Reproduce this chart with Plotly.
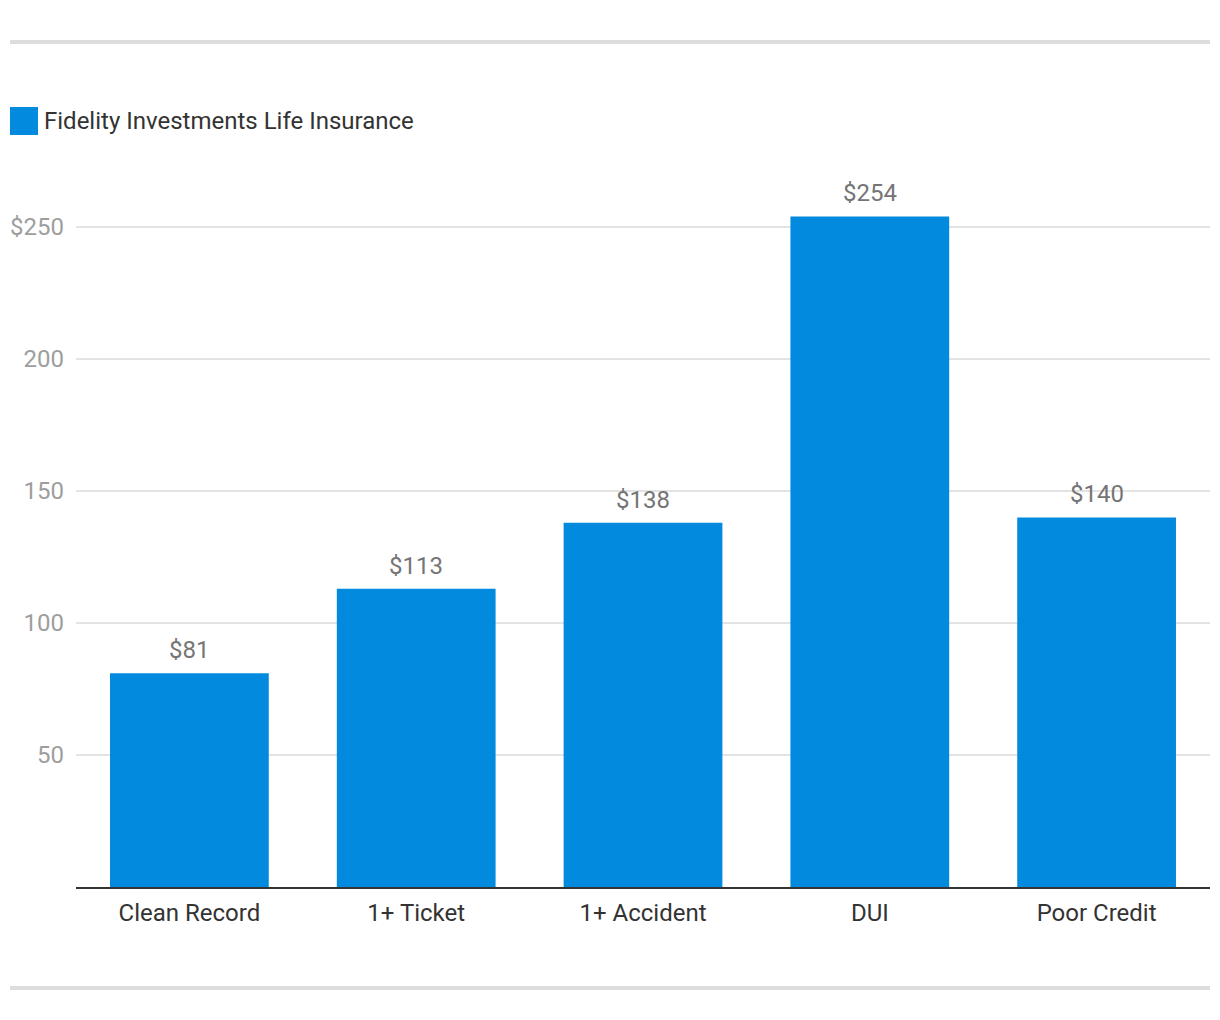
import plotly.graph_objects as go

categories = ["Clean Record", "1+ Ticket", "1+ Accident", "DUI", "Poor Credit"]
values = [81, 113, 138, 254, 140]
series_name = "Fidelity Investments Life Insurance"
y_ticks = [50, 100, 150, 200, 250]
y_tick_labels = ["50", "100", "150", "200", "$250"]

BAR = "#028ADE"
FONT = "Roboto, Arial, sans-serif"

# plot area in page pixels: x 76..1210, y 161..887 (page has 8px body offset)
PW, PH = 1134, 726

fig = go.Figure()
fig.add_trace(go.Bar(
    x=categories, y=values, name=series_name,
    marker=dict(color=BAR, line=dict(width=0)),
    width=0.7, showlegend=False, hoverinfo="x+y",
))

for c, v in zip(categories, values):
    fig.add_annotation(x=c, y=v, text=f"${v}", showarrow=False,
                       yanchor="bottom", yshift=7,
                       font=dict(family=FONT, size=24, color="#757575"))

# Legend (drawn manually to match the large square swatch)
fig.add_shape(type="rect", xref="paper", yref="paper",
              x0=-66/PW, x1=-38/PW, y0=(887-135)/PH, y1=(887-107)/PH,
              fillcolor=BAR, line=dict(width=0))
fig.add_annotation(xref="paper", yref="paper", x=-34/PW, y=(887-121)/PH,
                   xanchor="left", yanchor="middle", showarrow=False,
                   text=series_name,
                   font=dict(family=FONT, size=24, color="#333333"))

# Top and bottom separator lines
for ypx in (42, 988):
    fig.add_shape(type="line", xref="paper", yref="paper",
                  x0=-66/PW, x1=1.0, y0=(887-ypx)/PH, y1=(887-ypx)/PH,
                  line=dict(color="#DDDDDD", width=4))

fig.update_layout(
    width=1220, height=1020,
    margin=dict(l=68, r=18, t=153, b=141),
    paper_bgcolor="white", plot_bgcolor="white",
    font=dict(family=FONT, size=24, color="#333333"),
    bargap=0.3,
    xaxis=dict(showline=True, linecolor="#333333", linewidth=2,
               tickfont=dict(family=FONT, size=24, color="#333333"),
               ticks="", showgrid=False, fixedrange=True,
               ticklabelstandoff=3, automargin=False),
    yaxis=dict(range=[0, 275], tickvals=y_ticks, ticktext=y_tick_labels,
               tickfont=dict(family=FONT, size=24, color="#9E9E9E"),
               gridcolor="#E3E3E3", gridwidth=1.5, zeroline=False,
               showline=False, ticks="", ticklabelstandoff=11,
               fixedrange=True, automargin=False),
)

fig.write_html("out.html")
